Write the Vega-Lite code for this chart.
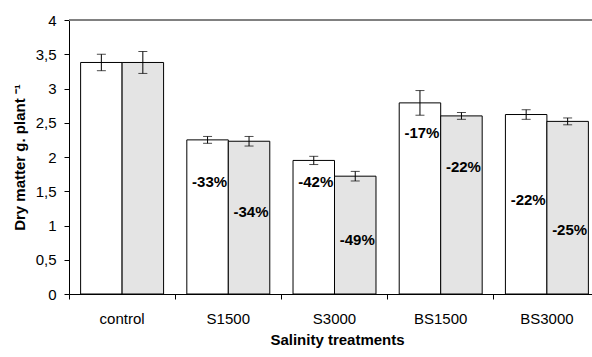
{
  "$schema": "https://vega.github.io/schema/vega-lite/v6.json",
  "width": 523,
  "height": 274,
  "autosize": {"type": "none"},
  "padding": {"left": 69, "top": 20, "right": 0, "bottom": 63},
  "background": "white",
  "config": {
    "view": {"stroke": null},
    "font": "Liberation Sans"
  },
  "data": {
    "values": [
      {"treatment": "control", "series": "A", "value": 3.38, "errLow": 3.26, "errHigh": 3.50, "pct": "", "labelAt": null},
      {"treatment": "control", "series": "B", "value": 3.38, "errLow": 3.22, "errHigh": 3.54, "pct": "", "labelAt": null},
      {"treatment": "S1500", "series": "A", "value": 2.25, "errLow": 2.20, "errHigh": 2.30, "pct": "-33%", "labelAt": 1.64},
      {"treatment": "S1500", "series": "B", "value": 2.23, "errLow": 2.16, "errHigh": 2.30, "pct": "-34%", "labelAt": 1.20},
      {"treatment": "S3000", "series": "A", "value": 1.95, "errLow": 1.89, "errHigh": 2.01, "pct": "-42%", "labelAt": 1.64},
      {"treatment": "S3000", "series": "B", "value": 1.72, "errLow": 1.65, "errHigh": 1.79, "pct": "-49%", "labelAt": 0.79},
      {"treatment": "BS1500", "series": "A", "value": 2.79, "errLow": 2.61, "errHigh": 2.97, "pct": "-17%", "labelAt": 2.35},
      {"treatment": "BS1500", "series": "B", "value": 2.60, "errLow": 2.55, "errHigh": 2.65, "pct": "-22%", "labelAt": 1.86},
      {"treatment": "BS3000", "series": "A", "value": 2.62, "errLow": 2.55, "errHigh": 2.69, "pct": "-22%", "labelAt": 1.37},
      {"treatment": "BS3000", "series": "B", "value": 2.52, "errLow": 2.47, "errHigh": 2.57, "pct": "-25%", "labelAt": 0.94}
    ]
  },
  "encoding": {
    "x": {
      "field": "treatment", "type": "nominal",
      "sort": ["control", "S1500", "S3000", "BS1500", "BS3000"],
      "scale": {"range": [0, 531], "paddingInner": 0, "paddingOuter": 0},
      "axis": {
        "title": "Salinity treatments",
        "titleFontSize": 15, "titleFontWeight": "bold", "titleColor": "black",
        "titlePadding": 6, "titleX": 268,
        "labelAngle": 0, "labelFontSize": 15, "labelColor": "black",
        "labelPadding": 12,
        "bandPosition": 0,
        "domainColor": "black", "tickColor": "black", "tickSize": 5,
        "grid": false
      }
    },
    "xOffset": {
      "field": "series", "type": "nominal",
      "scale": {"paddingInner": 0, "paddingOuter": 0.28}
    },
    "y": {
      "field": "value", "type": "quantitative",
      "scale": {"domain": [0, 4], "nice": false},
      "axis": {
        "title": "Dry matter g. plant ⁻¹",
        "titleFontSize": 15, "titleFontWeight": "bold", "titleColor": "black",
        "titlePadding": 8,
        "values": [0, 0.5, 1, 1.5, 2, 2.5, 3, 3.5, 4],
        "labelExpr": "replace(format(datum.value, '.1~f'), '.', ',')",
        "labelOverlap": false,
        "labelFontSize": 15, "labelColor": "black", "labelPadding": 8,
        "domainColor": "black", "tickColor": "black", "tickSize": 5,
        "grid": false
      }
    }
  },
  "layer": [
    {
      "mark": {"type": "bar", "stroke": "black", "strokeWidth": 1},
      "encoding": {
        "fill": {"field": "series", "type": "nominal", "scale": {"range": ["white", "#e4e4e4"]}, "legend": null}
      }
    },
    {
      "mark": {"type": "rule", "color": "black", "strokeWidth": 1},
      "encoding": {
        "y": {"field": "errLow", "type": "quantitative"},
        "y2": {"field": "errHigh"}
      }
    },
    {
      "mark": {"type": "tick", "color": "black", "size": 9, "thickness": 1, "orient": "horizontal"},
      "encoding": {
        "y": {"field": "errLow", "type": "quantitative"}
      }
    },
    {
      "mark": {"type": "tick", "color": "black", "size": 9, "thickness": 1, "orient": "horizontal"},
      "encoding": {
        "y": {"field": "errHigh", "type": "quantitative"}
      }
    },
    {
      "transform": [{"filter": "datum.pct != ''"}],
      "mark": {"type": "text", "fontSize": 15, "fontWeight": "bold", "color": "black", "dx": 2},
      "encoding": {
        "y": {"field": "labelAt", "type": "quantitative"},
        "text": {"field": "pct"}
      }
    },
    {
      "mark": {"type": "rule", "color": "#808080", "strokeWidth": 1},
      "encoding": {"x": null, "xOffset": null, "y": {"datum": 4, "type": "quantitative"}}
    }
  ]
}
